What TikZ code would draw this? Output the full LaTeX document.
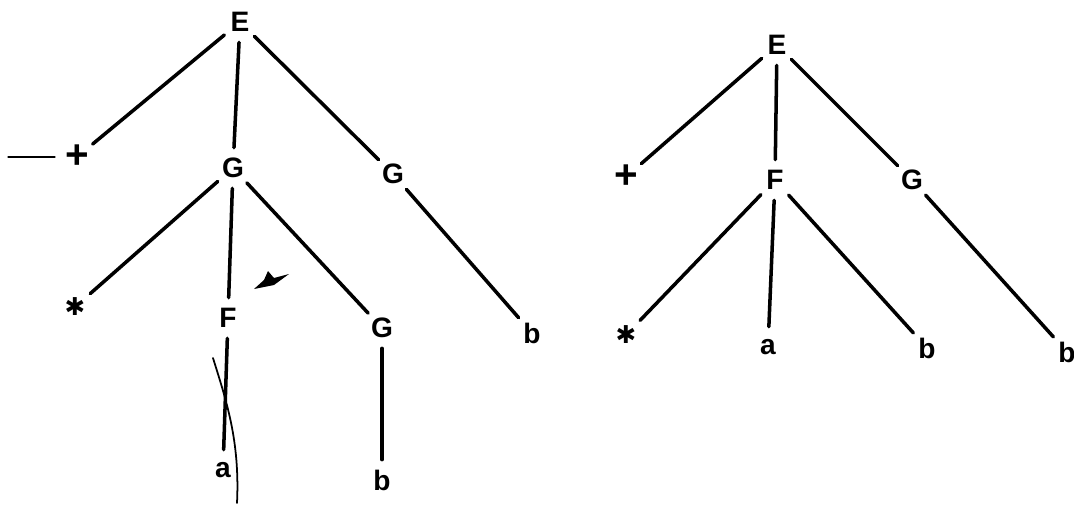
\documentclass[tikz,border=0pt]{standalone}
\usepackage{fontspec}
\setmainfont{Liberation Sans}
\newfontfamily\simbolos{DejaVu Sans}
\newcommand{\estrela}{{\simbolos\bfseries\fontsize{14}{14}\selectfont ✱}}
\newcommand{\mais}{{\fontsize{23}{23}\selectfont +}}
\begin{document}
\begin{tikzpicture}[
    x=0.02cm, y=-0.02cm,
    line cap=round,
    every node/.style={font=\bfseries\fontsize{16}{18}\selectfont},
    simbolo/.style={circle, inner sep=0pt, minimum size=0.8cm},
    ramo/.style={line width=2pt},
    risco/.style={line width=0.7pt}
]
\useasboundingbox (0,0) rectangle (1074,505);

% Primeira arvore
\node[simbolo] (E1) at (240,22) {E};
\node[simbolo] (plus1) at (77,157) {\mais};
\node[simbolo] (G1) at (233,168) {G};
\node[simbolo] (G2) at (393,174) {G};
\node[simbolo] (star1) at (75,307) {\estrela};
\node[simbolo] (F1) at (228,318) {F};
\node[simbolo] (G3) at (382,328) {G};
\node[simbolo] (b1) at (532,333) {b};
\node[simbolo] (a1) at (223,470) {a};
\node[simbolo] (b2) at (382,480) {b};

\draw[ramo] (E1) -- (plus1);
\draw[ramo] (E1) -- (G1);
\draw[ramo] (E1) -- (G2);
\draw[ramo] (G1) -- (star1);
\draw[ramo] (G1) -- (F1);
\draw[ramo] (G1) -- (G3);
\draw[ramo] (G2) -- (b1);
\draw[ramo] (F1) -- (a1);
\draw[ramo] (G3) -- (b2);

% Segunda arvore
\node[simbolo] (E2) at (777,45) {E};
\node[simbolo] (plus2) at (626,177) {\mais};
\node[simbolo] (F2) at (775,180) {F};
\node[simbolo] (G4) at (912,180) {G};
\node[simbolo] (star2) at (626,335) {\estrela};
\node[simbolo] (a2) at (768,347) {a};
\node[simbolo] (b3) at (927,348) {b};
\node[simbolo] (b4) at (1067,352) {b};

\draw[ramo] (E2) -- (plus2);
\draw[ramo] (E2) -- (F2);
\draw[ramo] (E2) -- (G4);
\draw[ramo] (F2) -- (star2);
\draw[ramo] (F2) -- (a2);
\draw[ramo] (F2) -- (b3);
\draw[ramo] (G4) -- (b4);

% Marcas no papel
\draw[risco] (8,157) -- (55,157);
\draw[line width=1pt] (213,358) .. controls (226,400) and (240,440) .. (237,503);
\fill (254,289) -- (264,280) -- (268,271) -- (274,278) -- (289,274) -- (274,285) -- cycle;

\end{tikzpicture}
\end{document}
